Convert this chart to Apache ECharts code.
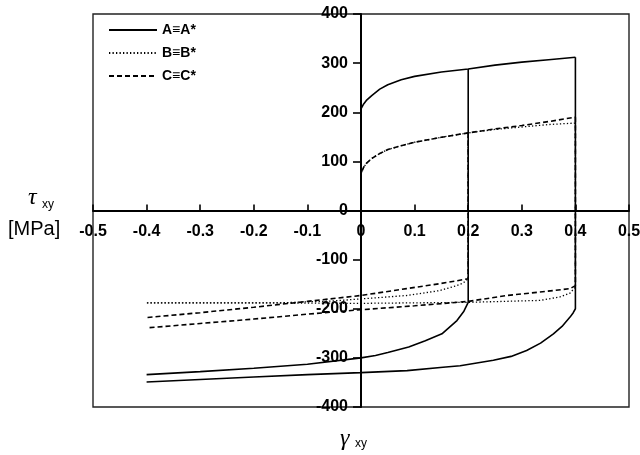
<!DOCTYPE html>
<html>
<head>
<meta charset="utf-8">
<script src="https://cdn.jsdelivr.net/npm/echarts@6/dist/echarts.min.js"></script>
<style>
  html, body { margin: 0; padding: 0; background: #fff; }
  #chart { width: 640px; height: 455px; }
</style>
</head>
<body>
<div id="chart"></div>
<script>
// Shear stress–strain paths [gamma_xy, tau_xy (MPa)]
const loadA = [[0,0],[0,207],[0.005,217],[0.01,224],[0.02,234],[0.035,247],[0.05,256],[0.075,266],[0.1,273],[0.15,282],[0.2,288],[0.25,296],[0.3,302],[0.35,307],[0.4,312]];
const unloadA1 = [[0.2,288],[0.2,-187],[0.192,-205],[0.179,-224],[0.151,-251],[0.12,-265],[0.089,-278],[0.05,-289],[0.027,-295],[0,-300],[-0.1,-313],[-0.2,-321],[-0.3,-328],[-0.4,-334]];
const unloadA2 = [[0.4,312],[0.4,-200],[0.396,-208],[0.39,-217],[0.375,-236],[0.359,-251],[0.335,-270],[0.309,-285],[0.28,-297],[0.247,-305],[0.185,-316],[0.153,-319],[0.086,-326],[0,-330],[-0.1,-334],[-0.2,-339],[-0.3,-344],[-0.4,-349]];

const loadB = [[0,0],[0,75],[0.005,88],[0.01,96],[0.02,106],[0.035,116],[0.05,124],[0.075,132],[0.1,139],[0.15,149],[0.2,158],[0.25,165],[0.3,170],[0.35,175],[0.4,178]];
const unloadB1 = [[0.2,158],[0.2,-139],[0.19,-148],[0.178,-153],[0.147,-163],[0.085,-173],[0,-180],[-0.05,-184],[-0.1,-186],[-0.15,-188],[-0.2,-188],[-0.3,-188],[-0.4,-188]];
const unloadB2 = [[0.4,178],[0.4,-156],[0.39,-168],[0.371,-176],[0.334,-183],[0.2,-187],[0.1,-188],[0,-189],[-0.2,-188],[-0.4,-188]];

const loadC = [[0,0],[0,75],[0.005,88],[0.01,96],[0.02,106],[0.035,116],[0.05,124],[0.075,132],[0.1,139],[0.15,149],[0.2,158],[0.25,166],[0.3,173],[0.35,181],[0.4,190]];
const unloadC1 = [[0.2,158],[0.2,-139],[0.147,-149],[0.085,-159],[0,-173],[-0.1,-185],[-0.2,-197],[-0.3,-208],[-0.4,-218]];
const unloadC2 = [[0.4,190],[0.4,-153],[0.39,-159],[0.334,-166],[0.272,-173],[0.2,-185],[0.1,-194],[0,-202],[-0.1,-211],[-0.2,-221],[-0.3,-230],[-0.4,-239]];

const seriesNames = ['A\u2261A*', 'B\u2261B*', 'C\u2261C*'];

const styleA = { color: '#000', width: 1.6, type: 'solid' };
const styleB = { color: '#000', width: 1.3, type: [1.3, 2.2] };
const styleC = { color: '#000', width: 1.6, type: [5, 3] };

// plot area (px); the axes cross at the centre of the symmetric ranges
const GRID = { left: 93, right: 11, top: 14, bottom: 48 };
const plotW = 640 - GRID.left - GRID.right;
const plotH = 455 - GRID.top - GRID.bottom;

function path(name, data, lineStyle) {
  return {
    name: name,
    type: 'line',
    data: data,
    showSymbol: false,
    symbol: 'none',
    smooth: false,
    lineStyle: lineStyle,
    itemStyle: { color: '#000' },
    emphasis: { disabled: true },
    animation: false
  };
}

const chart = echarts.init(document.getElementById('chart'), null, { renderer: 'canvas' });

const tickFont = { color: '#000', fontFamily: 'Liberation Sans, Arial, sans-serif', fontWeight: 'bold', fontSize: 16 };

chart.setOption({
  animation: false,
  grid: Object.assign({
    show: true, borderColor: '#222', borderWidth: 1.4,
    outerBoundsMode: 'none', containLabel: false
  }, GRID),
  legend: {
    data: seriesNames,
    orient: 'vertical',
    left: 108, top: 23, padding: 0,
    itemWidth: 48, itemHeight: 14, itemGap: 9,
    itemStyle: { opacity: 0 },
    textStyle: { color: '#000', fontFamily: 'Liberation Sans, Arial, sans-serif', fontWeight: 'bold', fontSize: 14 },
    selectedMode: false
  },
  xAxis: {
    type: 'value', min: -0.5, max: 0.5, interval: 0.1,
    position: 'bottom',
    offset: -plotH / 2,
    axisLine: { onZero: false, lineStyle: { color: '#000', width: 2 } },
    axisTick: { show: true, inside: true, length: 6, lineStyle: { color: '#000', width: 1.6 } },
    splitLine: { show: false },
    axisLabel: Object.assign({
      margin: 13,
      formatter: v => (Math.abs(v) < 1e-9 ? '0' : v.toFixed(1))
    }, tickFont)
  },
  yAxis: {
    type: 'value', min: -400, max: 400, interval: 100,
    position: 'left',
    offset: -plotW / 2,
    axisLine: { onZero: false, lineStyle: { color: '#000', width: 2 } },
    axisTick: { show: true, inside: false, length: 8, lineStyle: { color: '#000', width: 1.6 } },
    splitLine: { show: false },
    axisLabel: Object.assign({ margin: 13 }, tickFont)
  },
  series: [
    path(seriesNames[0], loadA, styleA),
    path(seriesNames[0], unloadA1, styleA),
    path(seriesNames[0], unloadA2, styleA),
    path(seriesNames[1], loadB, styleB),
    path(seriesNames[1], unloadB1, styleB),
    path(seriesNames[1], unloadB2, styleB),
    path(seriesNames[2], loadC, styleC),
    path(seriesNames[2], unloadC1, styleC),
    path(seriesNames[2], unloadC2, styleC)
  ],
  graphic: [
    { type: 'text', left: 28, top: 186, style: { text: '\u03c4', font: 'italic 24px "Liberation Serif", serif', fill: '#000' } },
    { type: 'text', left: 42, top: 199, style: { text: 'xy', font: '12px "Liberation Sans", sans-serif', fill: '#000' } },
    { type: 'text', left: 8, top: 219, style: { text: '[MPa]', font: '20px "Liberation Sans", sans-serif', fill: '#000' } },
    { type: 'text', left: 340, top: 427, style: { text: '\u03b3', font: 'italic 24px "Liberation Serif", serif', fill: '#000' } },
    { type: 'text', left: 355, top: 438, style: { text: 'xy', font: '12px "Liberation Sans", sans-serif', fill: '#000' } }
  ]
});
</script>
</body>
</html>
